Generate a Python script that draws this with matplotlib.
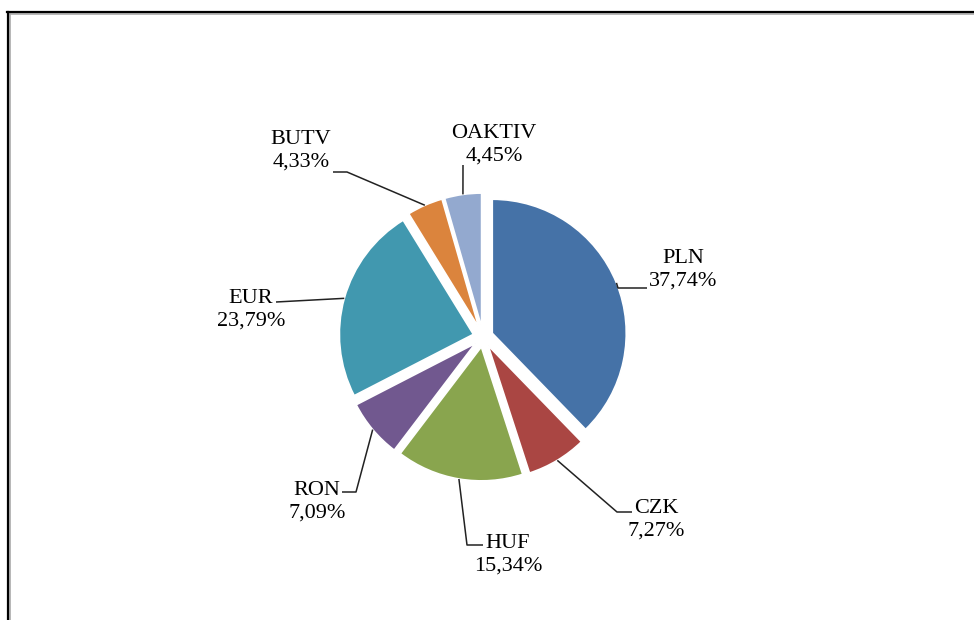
#!/usr/bin/env python3
"""Currency breakdown pie chart (Excel-style exploded pie with leader lines)."""

import numpy as np
import matplotlib
matplotlib.use("Agg")
import matplotlib.pyplot as plt
from matplotlib.lines import Line2D

labels = ["PLN", "CZK", "HUF", "RON", "EUR", "BUTV", "OAKTIV"]
shares = [37.74, 7.27, 15.34, 7.09, 23.79, 4.33, 4.45]
share_text = ["37,74%", "7,27%", "15,34%", "7,09%", "23,79%", "4,33%", "4,45%"]

COLORS = ["#4572A7", "#AA4643", "#89A54E", "#71588F", "#4198AF", "#DB843D", "#93A9CF"]

W, H = 974, 620
CENTER = (483, H - 337)
RADIUS = 134
EXPLODE = 10

# layout for labels (pixel coords, y measured from top): text centre, elbow, end of leader
LABEL_POS = {
    "PLN": ((683, 270), (618, 288), (647, 288)),
    "CZK": ((656, 520), (617, 512), (632, 512)),
    "HUF": ((508, 555), (467, 545), (483, 545)),
    "RON": ((317, 502), (356, 492), (342, 492)),
    "EUR": ((251, 310), (276, 302), (276, 302)),
    "BUTV": ((301, 151), (347, 172), (333, 172)),
    "OAKTIV": ((494, 145), (463, 165), (463, 165)),
}

fig = plt.figure(figsize=(W / 100, H / 100), dpi=100)
ax = fig.add_axes([0, 0, 1, 1])

wedges, _ = ax.pie(
    shares,
    colors=COLORS,
    startangle=90,
    counterclock=False,
    radius=RADIUS,
    center=CENTER,
    explode=[EXPLODE] * len(shares),
    wedgeprops=dict(edgecolor="white", linewidth=1.2),
)
ax.set_xlim(0, W)
ax.set_ylim(0, H)
ax.set_aspect("equal")
ax.axis("off")

for w, name, txt in zip(wedges, labels, share_text):
    mid = np.deg2rad((w.theta1 + w.theta2) / 2)
    cx, cy = w.center
    ax_x = cx + RADIUS * np.cos(mid)
    ax_y = cy + RADIUS * np.sin(mid)
    (tx, ty), (ex, ey), (fx, fy) = LABEL_POS[name]
    ax.plot([ax_x, ex, fx], [ax_y, H - ey, H - fy], color="#222222", lw=1.1,
            solid_capstyle="butt")
    ax.text(tx, H - ty, f"{name}\n{txt}", ha="center", va="center",
            family="Liberation Serif", fontsize=16, linespacing=1.24,
            color="black")

# frame: left and top edges with a soft shadow
fig.add_artist(Line2D([9.5 / W, 9.5 / W], [0, 1 - 12.5 / H], transform=fig.transFigure,
                      color="#aaaaaa", lw=1.2))
fig.add_artist(Line2D([9.5 / W, 1], [1 - 13.5 / H, 1 - 13.5 / H], transform=fig.transFigure,
                      color="#aaaaaa", lw=1.2))
fig.add_artist(Line2D([8 / W, 8 / W], [0, 1 - 11.5 / H], transform=fig.transFigure,
                      color="black", lw=1.6))
fig.add_artist(Line2D([7.4 / W, 1], [1 - 12 / H, 1 - 12 / H], transform=fig.transFigure,
                      color="black", lw=1.6))

fig.savefig("out.png", dpi=100, facecolor="white")
